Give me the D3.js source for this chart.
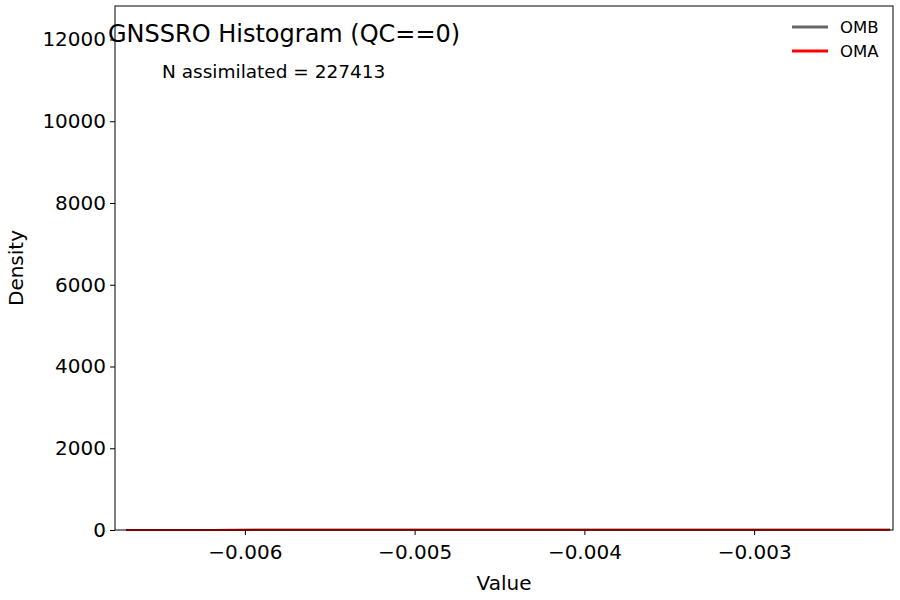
<!DOCTYPE html>
<html><head><meta charset="utf-8">
<script src="https://cdn.jsdelivr.net/npm/d3@7"></script>
<style>body{margin:0;background:#fff}text{font-family:"DejaVu Sans",sans-serif}</style>
</head><body><svg id="c" width="900" height="600"></svg>
<script>
const xTicks=[-0.006,-0.005,-0.004,-0.003];
const yTicks=[0,2000,4000,6000,8000,10000,12000];
const binCenters=[-0.0067,-0.0062,-0.0057,-0.0052,-0.0047,-0.0042,-0.0037,-0.0032,-0.0027,-0.0022];
const omb=[3,3,4,4,5,5,6,7,8,9];
const oma=[3,3,4,4,5,5,6,7,8,9];
const title="GNSSRO Histogram (QC==0)";
const subtitle="N assimilated = 227413";

const svg=d3.select("#c");
const L=115,R=893,T=6,B=530;
const x=d3.scaleLinear().domain([-0.006765,-0.002182]).range([L,R]);
const y=d3.scaleLinear().domain([0,12820]).range([B,T]);
const fmt=d=>d.toString().replace("-","\u2212");
const xa=svg.append("g").attr("transform",`translate(0,${B})`).call(d3.axisBottom(x).tickValues(xTicks).tickFormat(fmt).tickSizeOuter(0).tickSize(5));
const ya=svg.append("g").attr("transform",`translate(${L},0)`).call(d3.axisLeft(y).tickValues(yTicks).tickFormat(d=>d).tickSizeOuter(0).tickSize(5));
[xa,ya].forEach(a=>{a.attr("font-size",null).attr("font-family",null);a.selectAll("text").attr("font-size","20px").style("font-size","20px").attr("fill","#000");a.selectAll("line").attr("stroke","#000");a.select(".domain").remove();});
xa.selectAll("text").attr("dy","1.05em");
ya.selectAll("text").attr("x",-9);
const line=d3.line().x((d,i)=>x(binCenters[i])).y(d=>y(d));
svg.append("path").datum(omb).attr("d",line).attr("fill","none").attr("stroke","#666").attr("stroke-width",2);
svg.append("path").datum(oma).attr("d",line).attr("fill","none").attr("stroke","red").attr("stroke-width",2);
svg.append("rect").attr("x",L).attr("y",T).attr("width",R-L).attr("height",B-T).attr("fill","none").attr("stroke","#000");
svg.append("text").attr("x",504).attr("y",590).attr("text-anchor","middle").style("font-size","20px").text("Value");
svg.append("text").attr("transform","translate(23,268) rotate(-90)").attr("text-anchor","middle").style("font-size","20px").text("Density");
svg.append("text").attr("x",108).attr("y",42).style("font-size","24px").text(title);
svg.append("text").attr("x",162).attr("y",78).style("font-size","18.5px").text(subtitle);
const lg=[["OMB","#666"],["OMA","red"]];
lg.forEach((d,i)=>{const yy=27+i*24;
svg.append("line").attr("x1",792).attr("x2",828).attr("y1",yy).attr("y2",yy).attr("stroke",d[1]).attr("stroke-width",3);
svg.append("text").attr("x",840).attr("y",yy+6).style("font-size","16.5px").text(d[0]);});
</script></body></html>
